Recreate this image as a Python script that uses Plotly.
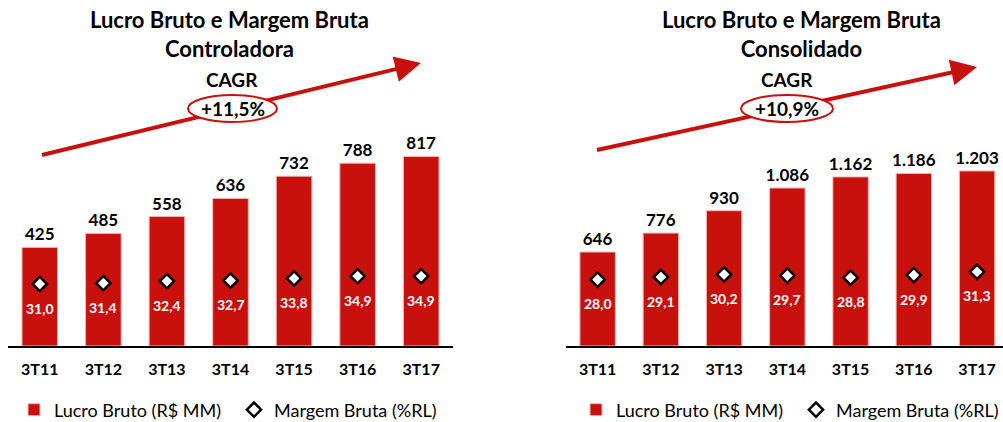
import plotly.graph_objects as go

W, H = 1003, 422
RED = "#C8100C"
FONT = "Lato"

categories = ["3T11", "3T12", "3T13", "3T14", "3T15", "3T16", "3T17"]
lucro_controladora = [425, 485, 558, 636, 732, 788, 817]
margem_controladora = [31.0, 31.4, 32.4, 32.7, 33.8, 34.9, 34.9]
lucro_consolidado = [646, 776, 930, 1086, 1162, 1186, 1203]
margem_consolidado = [28.0, 29.1, 30.2, 29.7, 28.8, 29.9, 31.3]
lucro_labels_consolidado = ["646", "776", "930", "1.086", "1.162", "1.186", "1.203"]
titles = ["Lucro Bruto e Margem Bruta<br>Controladora", "Lucro Bruto e Margem Bruta<br>Consolidado"]
cagr = ["+11,5%", "+10,9%"]

def fmt(v):
    return f"{v:.1f}".replace(".", ",")

def px_x(p):
    return p / W

def px_y(p):
    return 1 - p / H

fig = go.Figure()

# Left chart
fig.add_trace(go.Bar(
    x=categories, y=lucro_controladora, xaxis="x", yaxis="y",
    name="Lucro Bruto (R$ MM)", marker=dict(color=RED, line=dict(color="#F2B5B3", width=1)),
    width=0.56, text=[str(v) for v in lucro_controladora], textposition="outside",
    constraintext="none", cliponaxis=False,
    textfont=dict(family=FONT, size=17, color="black", weight="bold"),
    legend="legend",
))
fig.add_trace(go.Scatter(
    x=categories, y=margem_controladora, xaxis="x", yaxis="y2", mode="markers",
    name="Margem Bruta (%RL)",
    marker=dict(symbol="diamond", size=11, color="white", line=dict(color="black", width=2.5)),
    legend="legend", cliponaxis=False,
))
# Right chart
fig.add_trace(go.Bar(
    x=categories, y=lucro_consolidado, xaxis="x2", yaxis="y3",
    name="Lucro Bruto (R$ MM)", marker=dict(color=RED, line=dict(color="#F2B5B3", width=1)),
    width=0.56, text=lucro_labels_consolidado, textposition="outside",
    constraintext="none", cliponaxis=False,
    textfont=dict(family=FONT, size=17, color="black", weight="bold"),
    legend="legend2",
))
fig.add_trace(go.Scatter(
    x=categories, y=margem_consolidado, xaxis="x2", yaxis="y4", mode="markers",
    name="Margem Bruta (%RL)",
    marker=dict(symbol="diamond", size=11, color="white", line=dict(color="black", width=2.5)),
    legend="legend2", cliponaxis=False,
))

base = px_y(346)
top = px_y(130)
plot_h = 346 - 130

xcommon = dict(showline=True, linecolor="black", linewidth=2, ticks="outside", ticklen=8,
               tickcolor="rgba(0,0,0,0)", showgrid=False, zeroline=False, fixedrange=True,
               automargin=False,
               tickfont=dict(family=FONT, size=16, color="black", weight="bold"))
ycommon = dict(visible=False, showgrid=False, zeroline=False, fixedrange=True, automargin=False)

legfont = dict(family=FONT, size=18, color="black")
fig.update_layout(
    width=W, height=H, margin=dict(l=0, r=0, t=0, b=0, autoexpand=False),
    paper_bgcolor="white", plot_bgcolor="white",
    font=dict(family=FONT, color="black"),
    bargap=0.45,
    xaxis=dict(domain=[px_x(8), px_x(453)], anchor="y", range=[-0.5, 6.5], **xcommon),
    yaxis=dict(domain=[base, top], anchor="x", range=[0, plot_h / 0.232], **ycommon),
    yaxis2=dict(overlaying="y", anchor="x", range=[0, plot_h / 2.0], **ycommon),
    xaxis2=dict(domain=[px_x(566), 1.0], anchor="y3", range=[-0.5, 6.41], **xcommon),
    yaxis3=dict(domain=[base, top], anchor="x2", range=[0, plot_h / 0.1455], **ycommon),
    yaxis4=dict(overlaying="y3", anchor="x2", range=[0, plot_h / 2.37], **ycommon),
    legend=dict(orientation="h", x=px_x(14), y=px_y(410), xanchor="left", yanchor="middle",
                font=legfont, bgcolor="rgba(0,0,0,0)", entrywidth=175, entrywidthmode="pixels"),
    legend2=dict(orientation="h", x=px_x(576), y=px_y(410), xanchor="left", yanchor="middle",
                 font=legfont, bgcolor="rgba(0,0,0,0)", entrywidth=175, entrywidthmode="pixels"),
    showlegend=True,
)

# Margin labels (white, below diamonds)
for xa, ya, vals in [("x", "y2", margem_controladora), ("x2", "y4", margem_consolidado)]:
    for c, v in zip(categories, vals):
        fig.add_annotation(x=c, y=v, xref=xa, yref=ya, text=fmt(v), showarrow=False,
                           yshift=-24, font=dict(family=FONT, size=14, color="white", weight="bold"))

# Titles, CAGR, arrows, ellipses
panels = [
    dict(cx=229, cagr_x=232, tail=(42, 155), head=(421, 63), ell=(188, 95, 277, 122)),
    dict(cx=801, cagr_x=787, tail=(597, 150), head=(977, 67), ell=(741, 95, 833, 122)),
]
shapes = []
for i, p in enumerate(panels):
    fig.add_annotation(x=px_x(p["cx"]), y=px_y(34), xref="paper", yref="paper", text=titles[i],
                       showarrow=False, align="center", xanchor="center", yanchor="middle",
                       font=dict(family=FONT, size=22, color="black", weight="bold"))
    fig.add_annotation(x=px_x(p["cagr_x"]), y=px_y(79), xref="paper", yref="paper", text="CAGR",
                       showarrow=False, xanchor="center", yanchor="middle",
                       font=dict(family=FONT, size=19, color="black", weight="bold"))
    (tx, ty), (hx, hy) = p["tail"], p["head"]
    fx = hx - 14
    fy = ty + (hy - ty) * (fx - tx) / (hx - tx)
    shapes.append(dict(type="line", xref="paper", yref="paper", x0=px_x(tx), y0=px_y(ty),
                       x1=px_x(fx), y1=px_y(fy), line=dict(color=RED, width=4)))
    x0, y0, x1, y1 = p["ell"]
    shapes.append(dict(type="circle", xref="paper", yref="paper", x0=px_x(x0), y0=px_y(y0),
                       x1=px_x(x1), y1=px_y(y1), fillcolor="white", line=dict(color=RED, width=2)))
    fig.add_annotation(x=px_x(hx), y=px_y(hy), xref="paper", yref="paper", text="",
                       showarrow=True, arrowhead=2, arrowsize=1.3, arrowwidth=4, arrowcolor=RED,
                       ax=-(hx - fx) - 6, ay=(fy - hy) + 6 * (ty - hy) / (hx - tx))
    fig.add_annotation(x=px_x((x0 + x1) / 2), y=px_y((y0 + y1) / 2), xref="paper", yref="paper",
                       text=cagr[i], showarrow=False, xanchor="center", yanchor="middle",
                       font=dict(family=FONT, size=19, color="black", weight="bold"))

fig.update_layout(shapes=shapes)
fig.write_html("out.html", config={"displayModeBar": False},
               post_script="document.body.style.margin='0';document.body.style.overflow='hidden';")
